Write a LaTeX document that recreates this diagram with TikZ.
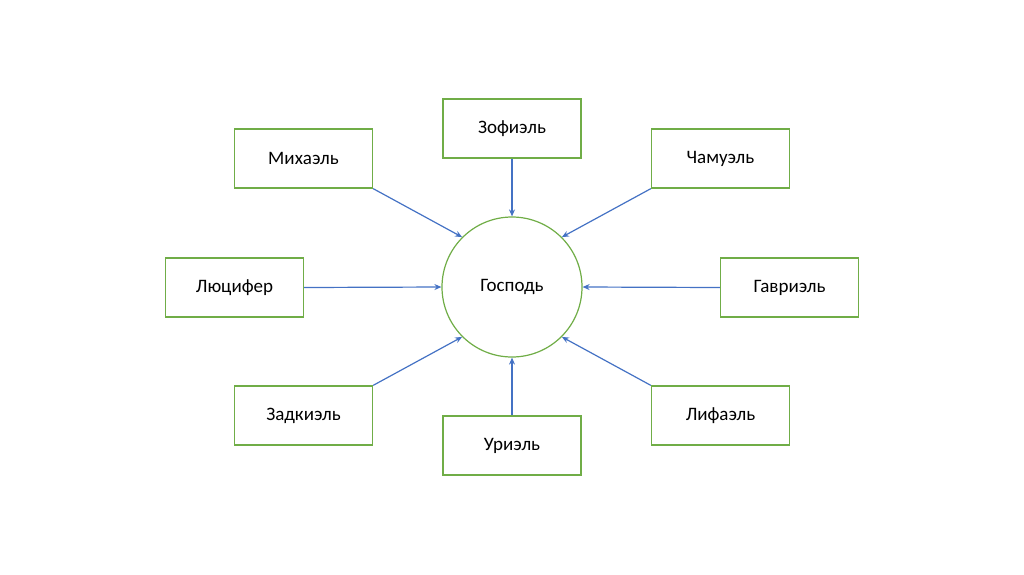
\documentclass[tikz,border=0pt]{standalone}
\usepackage{fontspec}
\setmainfont{Carlito}
\usetikzlibrary{arrows.meta}
\definecolor{gbord}{HTML}{70AD47}
\definecolor{barrow}{HTML}{4472C4}
\begin{document}
\begin{tikzpicture}[x=1pt,y=-1pt,
  box/.style={draw=gbord,line width=1.2pt,minimum width=138pt,minimum height=59pt,inner sep=0pt,font=\fontsize{19}{21}\selectfont},
  hub/.style={draw=gbord,line width=1.2pt,circle,minimum size=140pt,inner sep=0pt,font=\fontsize{19}{21}\selectfont},
  arr/.style={draw=barrow,line width=1.2pt,-{Stealth[length=7pt,width=6pt]}}]
\useasboundingbox (0,0) rectangle (1024,574);
\node[hub] (c) at (512,287) {Господь};
\node[box] (z) at (512,128.5) {Зофиэль};
\node[box] (m) at (303.5,158.5) {Михаэль};
\node[box] (ch) at (720.5,158.5) {Чамуэль};
\node[box] (l) at (234.5,287.5) {Люцифер};
\node[box] (g) at (789.5,287.5) {Гавриэль};
\node[box] (zd) at (303.5,415.5) {Задкиэль};
\node[box] (u) at (512,445.5) {Уриэль};
\node[box] (lf) at (720.5,415.5) {Лифаэль};
\draw[arr] (z.south) -- (c.north);
\draw[arr] (u.north) -- (c.south);
\draw[arr] (l.east) -- (c.west);
\draw[arr] (g.west) -- (c.east);
\draw[arr] (m.south east) -- (c.135);
\draw[arr] (ch.south west) -- (c.45);
\draw[arr] (zd.north east) -- (c.225);
\draw[arr] (lf.north west) -- (c.315);
\end{tikzpicture}
\end{document}
